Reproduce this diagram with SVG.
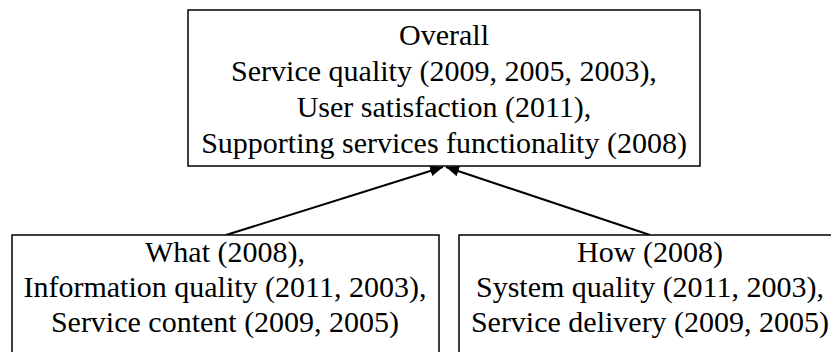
<svg xmlns="http://www.w3.org/2000/svg" width="831" height="352" viewBox="0 0 831 352">
  <style>
    .box { fill: #ffffff; stroke: #000000; stroke-width: 1.5; }
    .label { font-family: 'Liberation Serif', 'Times New Roman', Times, serif; font-size: 30px; fill: #000000; text-anchor: middle; }
    .edge { stroke: #000000; stroke-width: 2; fill: none; marker-end: url(#arrow); }
  </style>
  <defs>
    <marker id="arrow" viewBox="0 0 12 10" refX="12" refY="5" markerWidth="6.5" markerHeight="5.5" markerUnits="strokeWidth" orient="auto">
      <path d="M0,0 L12,5 L0,10 z" fill="#000000"/>
    </marker>
  </defs>

  <rect width="831" height="352" fill="#ffffff"/>

  <g id="connectors">
    <line class="edge" x1="226" y1="235" x2="443" y2="167"/>
    <line class="edge" x1="650" y1="235" x2="446" y2="167"/>
  </g>

  <g id="overall">
    <rect class="box" x="188" y="10" width="512" height="156"/>
    <text class="label" x="444" y="45">Overall</text>
    <text class="label" x="444" y="81">Service quality (2009, 2005, 2003),</text>
    <text class="label" x="444" y="117">User satisfaction (2011),</text>
    <text class="label" x="444" y="153">Supporting services functionality (2008)</text>
  </g>

  <g id="what">
    <rect class="box" x="12" y="235" width="427" height="130"/>
    <text class="label" x="225" y="262">What (2008),</text>
    <text class="label" x="225" y="297">Information quality (2011, 2003),</text>
    <text class="label" x="225" y="332">Service content (2009, 2005)</text>
  </g>

  <g id="how">
    <rect class="box" x="459" y="235" width="382" height="130"/>
    <text class="label" x="650" y="262">How (2008)</text>
    <text class="label" x="650" y="297">System quality (2011, 2003),</text>
    <text class="label" x="650" y="332">Service delivery (2009, 2005)</text>
  </g>
</svg>
